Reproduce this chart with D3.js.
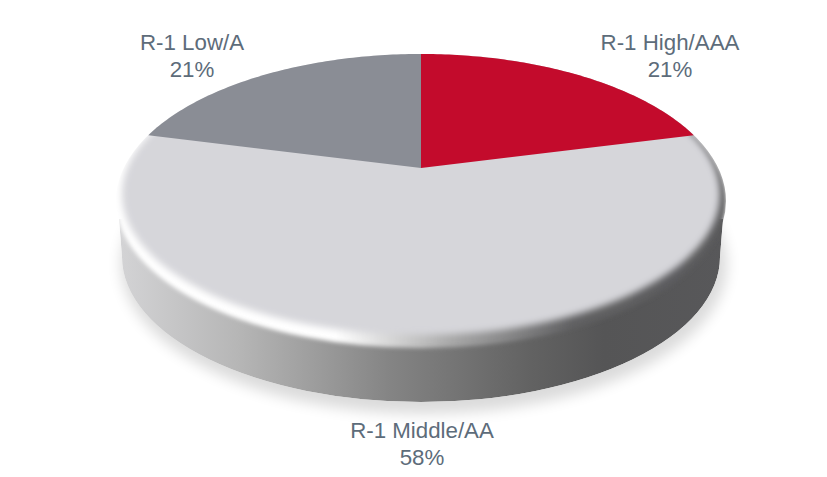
<!DOCTYPE html>
<html>
<head>
<meta charset="utf-8">
<script src="https://d3js.org/d3.v7.min.js"></script>
<style>
  html, body { margin: 0; padding: 0; background: #fff; }
  svg { display: block; }
  text { font-family: "Liberation Sans", Arial, sans-serif; font-size: 22.3px; fill: #5d6c7a; text-anchor: middle; }
</style>
</head>
<body>
<svg id="chart" width="827" height="477"></svg>
<script>
// values
var categories = ["R-1 High/AAA", "R-1 Middle/AA", "R-1 Low/A"];
var shares = [21, 58, 21];
var sliceColors = ["#c30b2c", "#d6d6da", "#8a8d95"];

var svg = d3.select("#chart");
var defs = svg.append("defs");

// tilted disc: top rim ellipse, the apex sits above the ellipse middle
var cx = 421, cy = 201, rx = 305, ry = 147, apexShift = -0.224;

// map a point of the unit circle onto the tilted disc (perspective)
function project(u, v) {
  var w = 1 + apexShift * v;
  return [cx + rx * u * Math.sqrt(1 - apexShift * apexShift) / w,
          cy + ry * (v + apexShift) / w];
}

var pie = d3.pie().sort(null).value(function(d) { return d; });
var arcs = pie(shares);
var line = d3.line();

function slicePath(a) {
  var pts = [project(0, 0)];
  d3.range(0, 81).forEach(function(i) {
    var t = a.startAngle + (a.endAngle - a.startAngle) * i / 80;
    pts.push(project(Math.sin(t), -Math.cos(t)));
  });
  return line(pts) + "Z";
}

var wallPath = "M" + (cx - 302) + "," + (cy + 18) + " L" + (cx - 299) + ",257 A299,145 0 0 0 " + (cx + 299) + ",257 L" + (cx + 302) + "," + (cy + 18) + " Z";

// gradients
var wall = defs.append("linearGradient").attr("id", "wall")
  .attr("gradientUnits", "userSpaceOnUse").attr("x1", 116).attr("x2", 726).attr("y1", 0).attr("y2", 0);
[[0, "#d4d4d6"], [0.2, "#b6b6b6"], [0.45, "#848484"], [0.68, "#626262"], [0.8, "#555556"], [1, "#58585a"]].forEach(function(s) {
  wall.append("stop").attr("offset", s[0]).attr("stop-color", s[1]);
});
var rim = defs.append("linearGradient").attr("id", "rim")
  .attr("gradientUnits", "userSpaceOnUse").attr("x1", 116).attr("x2", 726).attr("y1", 0).attr("y2", 0);
[[0, "#ffffff"], [0.36, "#ffffff"], [0.55, "#a8a8a8"], [0.75, "#606062"], [1, "#5a5a5c"]].forEach(function(s) {
  rim.append("stop").attr("offset", s[0]).attr("stop-color", s[1]);
});

defs.append("filter").attr("id", "blurShadow").attr("x", "-10%").attr("y", "-10%").attr("width", "120%").attr("height", "120%")
  .append("feGaussianBlur").attr("stdDeviation", 7);
defs.append("filter").attr("id", "blurFace").attr("x", "-5%").attr("y", "-5%").attr("width", "110%").attr("height", "110%")
  .append("feGaussianBlur").attr("stdDeviation", 3.6);
defs.append("filter").attr("id", "blurRim").attr("x", "-5%").attr("y", "-5%").attr("width", "110%").attr("height", "110%")
  .append("feGaussianBlur").attr("stdDeviation", 2);
var bodyClip = defs.append("clipPath").attr("id", "bodyClip");
bodyClip.append("ellipse").attr("cx", cx).attr("cy", cy).attr("rx", rx).attr("ry", ry);
bodyClip.append("path").attr("d", wallPath);
defs.append("clipPath").attr("id", "discClip").append("ellipse")
  .attr("cx", cx).attr("cy", cy).attr("rx", rx).attr("ry", ry);

// shadow under the disc
svg.append("ellipse").attr("cx", cx + 3).attr("cy", 264).attr("rx", 303).attr("ry", 150)
  .attr("fill", "#000").attr("opacity", 0.14).attr("filter", "url(#blurShadow)");

// side wall, bevel rim, everything clipped to the body outline
var body = svg.append("g").attr("clip-path", "url(#bodyClip)");
body.append("path").attr("d", wallPath).attr("fill", "url(#wall)");
body.append("ellipse").attr("cx", cx).attr("cy", cy).attr("rx", rx).attr("ry", ry)
  .attr("fill", "url(#rim)").attr("filter", "url(#blurRim)");

// top face
var face = svg.append("g").attr("clip-path", "url(#discClip)");
face.append("ellipse").attr("cx", cx).attr("cy", 194).attr("rx", 299).attr("ry", 141)
  .attr("fill", sliceColors[1]).attr("filter", "url(#blurFace)");

// the two upper slices run sharp to the rim
svg.selectAll("path.slice")
  .data(arcs.filter(function(d) { return d.index !== 1; }))
  .enter().append("path")
  .attr("class", "slice")
  .attr("d", slicePath)
  .attr("fill", function(d) { return sliceColors[d.index]; });

// labels
var labelPos = [[670, 50], [422, 438], [192, 50]];
categories.forEach(function(c, i) {
  var t = svg.append("text").attr("x", labelPos[i][0]).attr("y", labelPos[i][1]);
  t.append("tspan").attr("x", labelPos[i][0]).text(c);
  t.append("tspan").attr("x", labelPos[i][0]).attr("dy", 27).text(shares[i] + "%");
});
</script>
</body>
</html>
